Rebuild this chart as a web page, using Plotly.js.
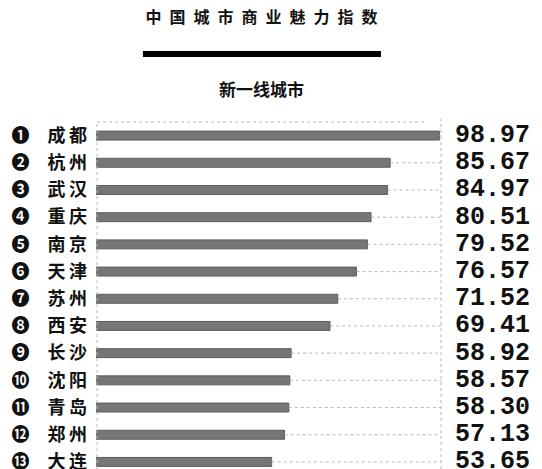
<!DOCTYPE html>
<html>
<head>
<meta charset="utf-8">
<script src="https://cdn.plot.ly/plotly-3.0.1.min.js"></script>
<style>
  html, body { margin: 0; padding: 0; background: #fff; }
  #chart { width: 542px; height: 469px; }
</style>
</head>
<body>
<div id="chart"></div>
<script>
"use strict";

const cities = ["成都", "杭州", "武汉", "重庆", "南京", "天津", "苏州", "西安", "长沙", "沈阳", "青岛", "郑州", "大连"];
const scores = [98.97, 85.67, 84.97, 80.51, 79.52, 76.57, 71.52, 69.41, 58.92, 58.57, 58.30, 57.13, 53.65];
const rankMarks = ["❶", "❷", "❸", "❹", "❺", "❻", "❼", "❽", "❾", "❿", "⓫", "⓬", "⓭"];
const chartTitle = "中国城市商业魅力指数";
const subTitle = "新一线城市";

const X_MIN = 6.2;
const X_MAX = 99.4;
const CJK = "Noto Sans CJK SC, sans-serif";

// Spread characters out a bit, the poster uses wide tracking.
function spaced(s, gap) {
  return Array.from(s).join(gap);
}

const tickText = cities.map((c, i) => `${rankMarks[i]}\u2003${spaced(c, "\u2009")}`);

// Dotted leader from each bar end to the right frame.
const leadX = [];
const leadY = [];
scores.forEach((v, i) => {
  leadX.push(v, X_MAX, null);
  leadY.push(cities[i], cities[i], null);
});

const traces = [
  {
    type: "scatter",
    mode: "lines",
    x: leadX,
    y: leadY,
    line: { color: "#b8b8b8", width: 1, dash: "dot" },
    hoverinfo: "skip",
  },
  {
    type: "bar",
    orientation: "h",
    x: scores,
    y: cities,
    width: 0.33,
    marker: { color: "#767676", line: { color: "#5e5e5e", width: 1 } },
    hovertemplate: "%{y}: %{x:.2f}<extra></extra>",
  },
];

const valueNotes = scores.map((v, i) => ({
  xref: "paper",
  yref: "y",
  x: 1,
  y: cities[i],
  xanchor: "left",
  yanchor: "middle",
  xshift: 12,
  showarrow: false,
  text: `<b>${v.toFixed(2)}</b>`,
  font: { family: "Liberation Mono, monospace", size: 25, color: "#111" },
}));

const layout = {
  width: 542,
  height: 469,
  paper_bgcolor: "#fff",
  plot_bgcolor: "#fff",
  showlegend: false,
  margin: { l: 96, r: 101, t: 122, b: 0 },
  title: {
    text: `<b>${spaced(chartTitle, "\u2002")}</b>`,
    font: { family: CJK, size: 16, color: "#111" },
    xref: "container",
    yref: "container",
    x: 261.5 / 542,
    xanchor: "center",
    y: 1 - 17 / 469,
    yanchor: "middle",
  },
  xaxis: {
    range: [X_MIN, X_MAX],
    showgrid: false,
    zeroline: false,
    showticklabels: false,
    showline: false,
    fixedrange: true,
  },
  yaxis: {
    type: "category",
    categoryorder: "array",
    categoryarray: cities,
    range: [12.26, -0.5],
    tickmode: "array",
    tickvals: cities,
    ticktext: tickText,
    tickfont: { family: CJK, size: 18, color: "#111", weight: "bold" },
    ticklabelstandoff: 8,
    showgrid: false,
    zeroline: false,
    showline: false,
    ticks: "",
    fixedrange: true,
  },
  shapes: [
    // heavy rule under the title
    { type: "line", xref: "paper", yref: "paper", x0: 0.136, x1: 0.826, y0: 1.196, y1: 1.196, line: { color: "#000", width: 6 } },
    // dotted frame
    { type: "line", xref: "paper", yref: "paper", x0: 0.003, x1: 0.96, y0: 1, y1: 1, line: { color: "#b8b8b8", width: 1, dash: "dot" } },
    { type: "line", xref: "paper", yref: "paper", x0: 0.003, x1: 0.003, y0: 0, y1: 1, line: { color: "#b8b8b8", width: 1, dash: "dot" } },
    { type: "line", xref: "paper", yref: "paper", x0: 1, x1: 1, y0: 0, y1: 1.01, line: { color: "#b8b8b8", width: 1, dash: "dot" } },
  ],
  annotations: [
    {
      xref: "paper",
      yref: "paper",
      x: (261 - 96) / 345,
      y: 1 + (122 - 88) / 347,
      xanchor: "center",
      yanchor: "middle",
      showarrow: false,
      text: `<b>${subTitle}</b>`,
      font: { family: CJK, size: 17, color: "#111" },
    },
    ...valueNotes,
  ],
};

Plotly.newPlot("chart", traces, layout, { displayModeBar: false, staticPlot: true });
</script>
</body>
</html>
